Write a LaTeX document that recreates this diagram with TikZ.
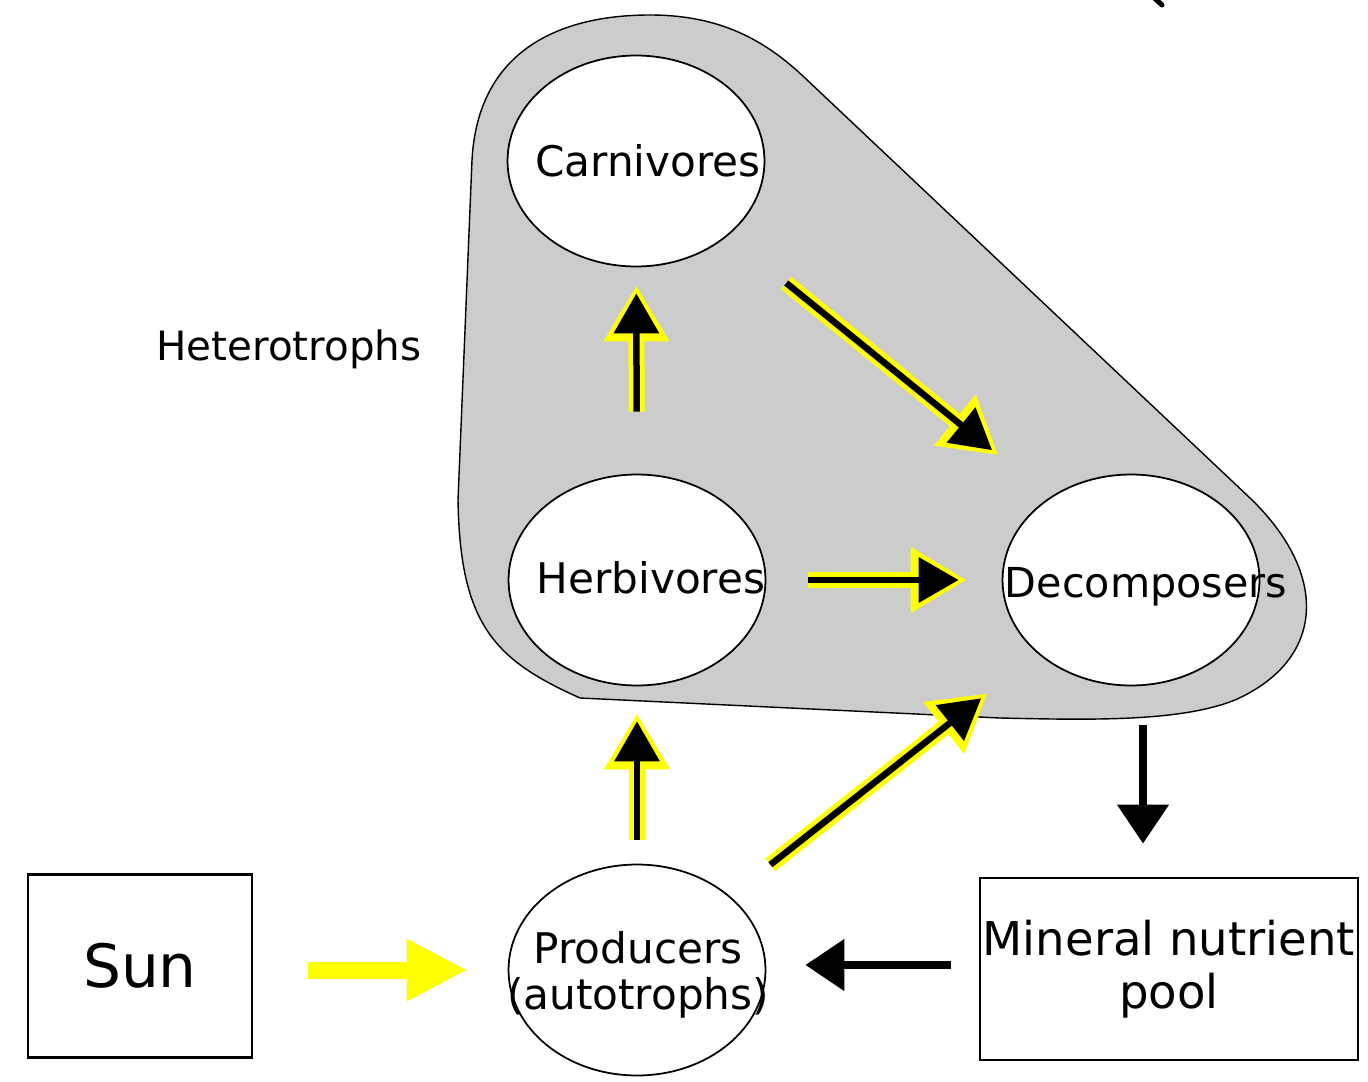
\documentclass[tikz,border=0pt]{standalone}
\usepackage{fontspec}
\setmainfont{DejaVu Sans}
\usetikzlibrary{arrows.meta,shapes.geometric}
\definecolor{pool}{HTML}{CCCCCC}
\definecolor{sunlight}{HTML}{FFFF00}

\begin{document}
\begin{tikzpicture}[
  x=0.02cm,y=-0.02cm,
  organism/.style={ellipse,draw,line width=1pt,fill=white,minimum width=5.14cm,minimum height=4.22cm,inner sep=0pt},
  store/.style={rectangle,draw,line width=1.6pt,inner sep=0pt,align=center},
  tag/.style={font=\fontsize{24}{26}\selectfont,align=center},
  flow/.style={line width=0.13cm,-{Triangle[length=0.8cm,width=0.88cm,sep=0.16cm]},
    preaction={draw=sunlight,line width=0.32cm,-{Triangle[length=1.12cm,width=1.24cm]}}},
  energy/.style={draw=sunlight,line width=0.34cm,-{Triangle[length=1.22cm,width=1.16cm]}},
  nutrient/.style={line width=0.16cm,-{Triangle[length=0.78cm,width=1.0cm]}}
]
\useasboundingbox (0,0) rectangle (1368,1081);
% heterotroph area
\draw[fill=pool,line width=0.8pt] (472,160) .. controls (478,50) and (560,15) .. (650,15)
  .. controls (720,15) and (765,40) .. (805,78) -- (1250,498)
  .. controls (1330,575) and (1325,660) .. (1235,700)
  .. controls (1180,722) and (1090,720) .. (1000,718) -- (580,698)
  .. controls (495,660) and (460,625) .. (458,500) -- cycle;
\draw[line width=0.1cm,line cap=round] (1152,-4) -- (1162,5);

\node[organism,label={[tag,xshift=0.24cm]center:Carnivores}] (carn) at (636,161) {};
\node[organism,label={[tag,xshift=0.28cm,yshift=0.04cm]center:Herbivores}] (herb) at (637,580) {};
\node[organism,label={[tag,xshift=0.3cm,yshift=-0.14cm,font=\fontsize{23.5}{26}\selectfont]center:Decomposers}] (decomp) at (1131,580) {};
\node[organism,label={[tag,xshift=0.02cm,yshift=-0.1cm]center:Producers\\(autotrophs)}] (prod) at (637,970) {};
\node[font=\fontsize{23}{27}\selectfont] (hetero) at (289,349) {Heterotrophs};
\node[store,minimum width=4.48cm,minimum height=3.66cm,font=\fontsize{34}{40}\selectfont] (sun) at (140,966) {Sun};
\node[store,minimum width=7.56cm,minimum height=3.64cm,font=\fontsize{26.5}{30}\selectfont] (pool) at (1169,969) {Mineral nutrient\\pool};

\draw[energy,shorten <=1.1cm,shorten >=0.8cm] (sun.east |- prod.west) -- (prod.west);
\draw[flow,shorten <=0.48cm,shorten >=0.54cm] (prod) -- (herb);
\draw[flow,shorten <=1.24cm,shorten >=0.36cm] (herb) -- (carn);
\draw[flow,shorten <=1.5cm,shorten >=3.42cm] (carn) -- ([yshift=0.34cm]decomp.center);
\draw[flow,shorten <=0.84cm,shorten >=0.7cm] (herb) -- (decomp);
\draw[flow,shorten <=1.02cm,shorten >=1.28cm] (prod) -- (decomp);
\draw[nutrient,shorten <=0.78cm,shorten >=0.66cm] ([xshift=0.24cm]decomp.south) -- ([xshift=0.24cm]decomp.south |- pool.north);
\draw[nutrient,shorten <=0.56cm,shorten >=0.78cm] ([yshift=0.08cm]pool.west) -- ([yshift=0.08cm]pool.west -| prod.east);
\end{tikzpicture}
\end{document}
